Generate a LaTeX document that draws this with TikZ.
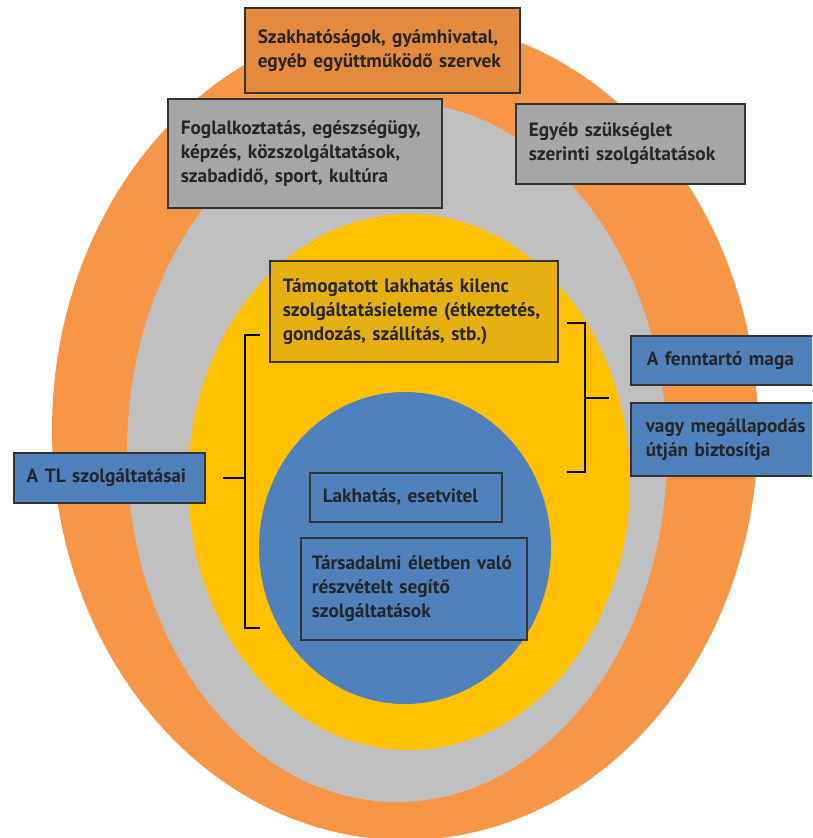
\documentclass[tikz,border=0pt]{standalone}
\usepackage{fontspec}
\setmainfont{PT Sans}
\usetikzlibrary{positioning}
\definecolor{orangering}{HTML}{F79646}
\definecolor{grayring}{HTML}{BFBFBF}
\definecolor{yellowring}{HTML}{FFC000}
\definecolor{bluering}{HTML}{4F81BD}
\definecolor{orangebox}{HTML}{E38A3E}
\definecolor{graybox}{HTML}{A6A6A6}
\definecolor{yellowbox}{HTML}{E6B012}
\definecolor{boxline}{HTML}{333333}
\definecolor{boxtext}{HTML}{262626}
\tikzset{
  box/.style={draw=boxline, line width=1.5pt, anchor=north west, align=left,
    inner xsep=13pt, inner ysep=0pt, text=boxtext,
    font=\bfseries\fontsize{19.3}{24}\selectfont},
  brace/.style={draw=black, line width=1.5pt},
}

\begin{document}
\begin{tikzpicture}[x=1pt,y=-1pt]
      \clip (0,0) rectangle (812,838);

      \foreach \col/\cx/\cy/\rx/\ry in {orangering/405/430/353/410, grayring/397/452/270/350,
          yellowring/409/482/221/268, bluering/405/548/146/156} {
        \fill[\col] (\cx,\cy) ellipse [x radius=\rx, y radius=\ry];
      }

      \node[box, fill=orangebox, text width=249pt, minimum height=85pt] (szak) at (244,7)
        {Szakhatóságok, gyámhivatal,\\egyéb együttműködő szervek};
      \node[box, fill=graybox, text width=248pt, minimum height=109pt] (fogl) at (167,98)
        {Foglalkoztatás, egészségügy,\\képzés, közszolgáltatások,\\szabadidő, sport, kultúra};
      \node[box, fill=graybox, text width=203pt, minimum height=80pt] (egyeb) at (515,103)
        {Egyéb szükséglet\\szerinti szolgáltatások};
      \node[box, fill=yellowbox, text width=262pt, minimum height=101pt] (tam) at (269,260)
        {Támogatott lakhatás kilenc\\szolgáltatásieleme (étkeztetés,\\gondozás, szállítás, stb.)};

      \node[box, fill=bluering, inner xsep=16pt, text width=168pt, minimum height=49pt] (fennt) at (630,335)
        {A fenntartó maga};
      \node[box, fill=bluering, inner xsep=15pt, text width=170pt, minimum height=73pt] (vagy) at (630,402)
        {vagy megállapodás\\útján biztosítja};
      \node[box, fill=bluering, text width=165pt, minimum height=50pt] (tl) at (13,452)
        {A TL szolgáltatásai};
      \node[box, fill=bluering, text width=166pt, minimum height=49pt] (lak) at (309,472)
        {Lakhatás, esetvitel};
      \node[box, fill=bluering, inner xsep=11pt, text width=204pt, minimum height=102pt] (tars) at (300,537)
        {Társadalmi életben való\\részvételt segítő\\szolgáltatások};

      \coordinate (lt) at (260,335);
      \coordinate (lb) at (260,628);
      \coordinate (lspine) at (245,478);
      \coordinate (lm) at (223,478);
      \draw[brace] (lt) -- (lt -| lspine) -- (lb -| lspine) -- (lb);
      \draw[brace] (lm) -- (lspine);

      \coordinate (rt) at (567,323);
      \coordinate (rb) at (567,472);
      \coordinate (rspine) at (585,398);
      \coordinate (rm) at (609,398);
      \draw[brace] (rt) -- (rt -| rspine) -- (rb -| rspine) -- (rb);
      \draw[brace] (rspine) -- (rm);
    \end{tikzpicture}
\end{document}
